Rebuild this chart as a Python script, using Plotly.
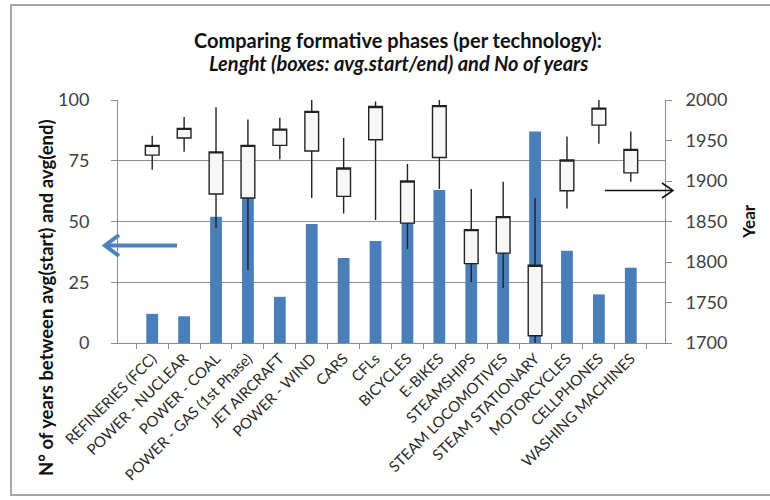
import plotly.graph_objects as go

categories = ["REFINERIES (FCC)", "POWER - NUCLEAR", "POWER - COAL", "POWER - GAS (1st Phase)",
              "JET AIRCRAFT", "POWER - WIND", "CARS", "CFLs", "BICYCLES", "E-BIKES",
              "STEAMSHIPS", "STEAM LOCOMOTIVES", "STEAM STATIONARY", "MOTORCYCLES",
              "CELLPHONES", "WASHING MACHINES"]
n_years = [12, 11, 52, 60, 19, 49, 35, 42, 50, 63, 33, 37, 87, 38, 20, 31]
whisker_low = [1914, 1936, 1842, 1790, 1927, 1879, 1860, 1852, 1816, 1890, 1775, 1768, 1700, 1866, 1946, 1899]
avg_start = [1932, 1953, 1884, 1879, 1944, 1937, 1881, 1951, 1848, 1929, 1798, 1811, 1709, 1888, 1969, 1910]
avg_end = [1944, 1965, 1936, 1944, 1964, 1986, 1916, 1992, 1900, 1993, 1840, 1856, 1796, 1926, 1990, 1939]
whisker_high = [1956, 1979, 1991, 1976, 1978, 2000, 1953, 1998, 1921, 2000, 1890, 1899, 1879, 1955, 2000, 1961]

# plot-area geometry (pixels)
L, R, T, B = 118, 665, 100, 343
W, H = 770, 500


def px(x):
    return (x - L) / (R - L)


def py(y):
    return (B - y) / (B - T)


FONT = "Lato"

fig = go.Figure()
fig.add_trace(go.Bar(x=categories, y=n_years, width=0.37, marker=dict(color="#4a7ebb", line=dict(width=0)),
                     name="N years", showlegend=False))
fig.add_trace(go.Box(x=categories, q1=avg_start, median=avg_end, q3=avg_end,
                     lowerfence=whisker_low, upperfence=whisker_high,
                     width=0.43, whiskerwidth=0, fillcolor="#f7f7f7",
                     line=dict(color="#222222", width=1.4), boxpoints=False,
                     yaxis="y2", showlegend=False))

shapes = [
    # outer frame
    dict(type="rect", xref="paper", yref="paper", x0=px(11), x1=px(780), y0=py(495), y1=py(5),
         line=dict(color="#a6a6a6", width=2), layer="below"),
    # blue arrow (left)
    dict(type="line", xref="paper", yref="paper", x0=px(177), x1=px(106), y0=py(245.5), y1=py(245.5),
         line=dict(color="#4f81bd", width=4)),
    dict(type="path", xref="paper", yref="paper",
         path=f"M {px(119)},{py(235)} L {px(105)},{py(245.5)} L {px(119)},{py(256)}",
         line=dict(color="#4f81bd", width=4)),
    # black arrow (right)
    dict(type="line", xref="paper", yref="paper", x0=px(605), x1=px(672), y0=py(190.5), y1=py(190.5),
         line=dict(color="#111111", width=1.6)),
    dict(type="path", xref="paper", yref="paper",
         path=f"M {px(662)},{py(183)} L {px(673)},{py(190.5)} L {px(662)},{py(198)}",
         line=dict(color="#111111", width=1.6)),
]

annotations = [
    dict(text="<b>Comparing formative phases (per technology):</b>", xref="paper", yref="paper",
         x=px(398), y=py(40), showarrow=False, xanchor="center", yanchor="middle",
         font=dict(family=FONT, size=20, color="#111111")),
    dict(text="<b><i>Lenght (boxes: avg.start/end) and No of years</i></b>", xref="paper", yref="paper",
         x=px(398), y=py(63), showarrow=False, xanchor="center", yanchor="middle",
         font=dict(family=FONT, size=20, color="#111111")),
    dict(text="<b>N° of years between avg(start) and avg(end)</b>", xref="paper", yref="paper",
         x=px(46), y=py(298), textangle=-90, showarrow=False, xanchor="center", yanchor="middle",
         font=dict(family=FONT, size=18.5, color="#111111")),
    dict(text="<b>Year</b>", xref="paper", yref="paper",
         x=px(748), y=py(222), textangle=-90, showarrow=False, xanchor="center", yanchor="middle",
         font=dict(family=FONT, size=17, color="#111111")),
]

fig.update_layout(
    width=W, height=H,
    margin=dict(l=L, r=W - R, t=T, b=H - B, pad=0),
    paper_bgcolor="white", plot_bgcolor="white",
    font=dict(family=FONT, color="#404040"),
    xaxis=dict(type="category", tickangle=-45, tickfont=dict(size=15, color="#2a2a2a"),
               showline=True, linecolor="#8c8c8c", linewidth=1, ticks="outside", ticklen=5,
               tickcolor="#8c8c8c", tickson="boundaries", showgrid=False, automargin=False),
    yaxis=dict(range=[0, 100], dtick=25, showgrid=True, gridcolor="#8c8c8c", gridwidth=1,
               showline=True, linecolor="#8c8c8c", ticks="outside", ticklen=6, tickcolor="#8c8c8c",
               tickfont=dict(size=18, color="#404040"), ticklabelstandoff=18, zeroline=False,
               automargin=False),
    yaxis2=dict(range=[1700, 2000], dtick=50, overlaying="y", side="right", showgrid=False,
                showline=True, linecolor="#8c8c8c", ticks="outside", ticklen=6, tickcolor="#8c8c8c",
                tickfont=dict(size=18, color="#404040"), ticklabelstandoff=10, zeroline=False,
                automargin=False),
    shapes=shapes, annotations=annotations,
    bargap=0.6,
)

fig.write_html("out.html", config={"displayModeBar": False},
               post_script="document.body.style.margin='0';document.body.style.overflow='hidden';")
